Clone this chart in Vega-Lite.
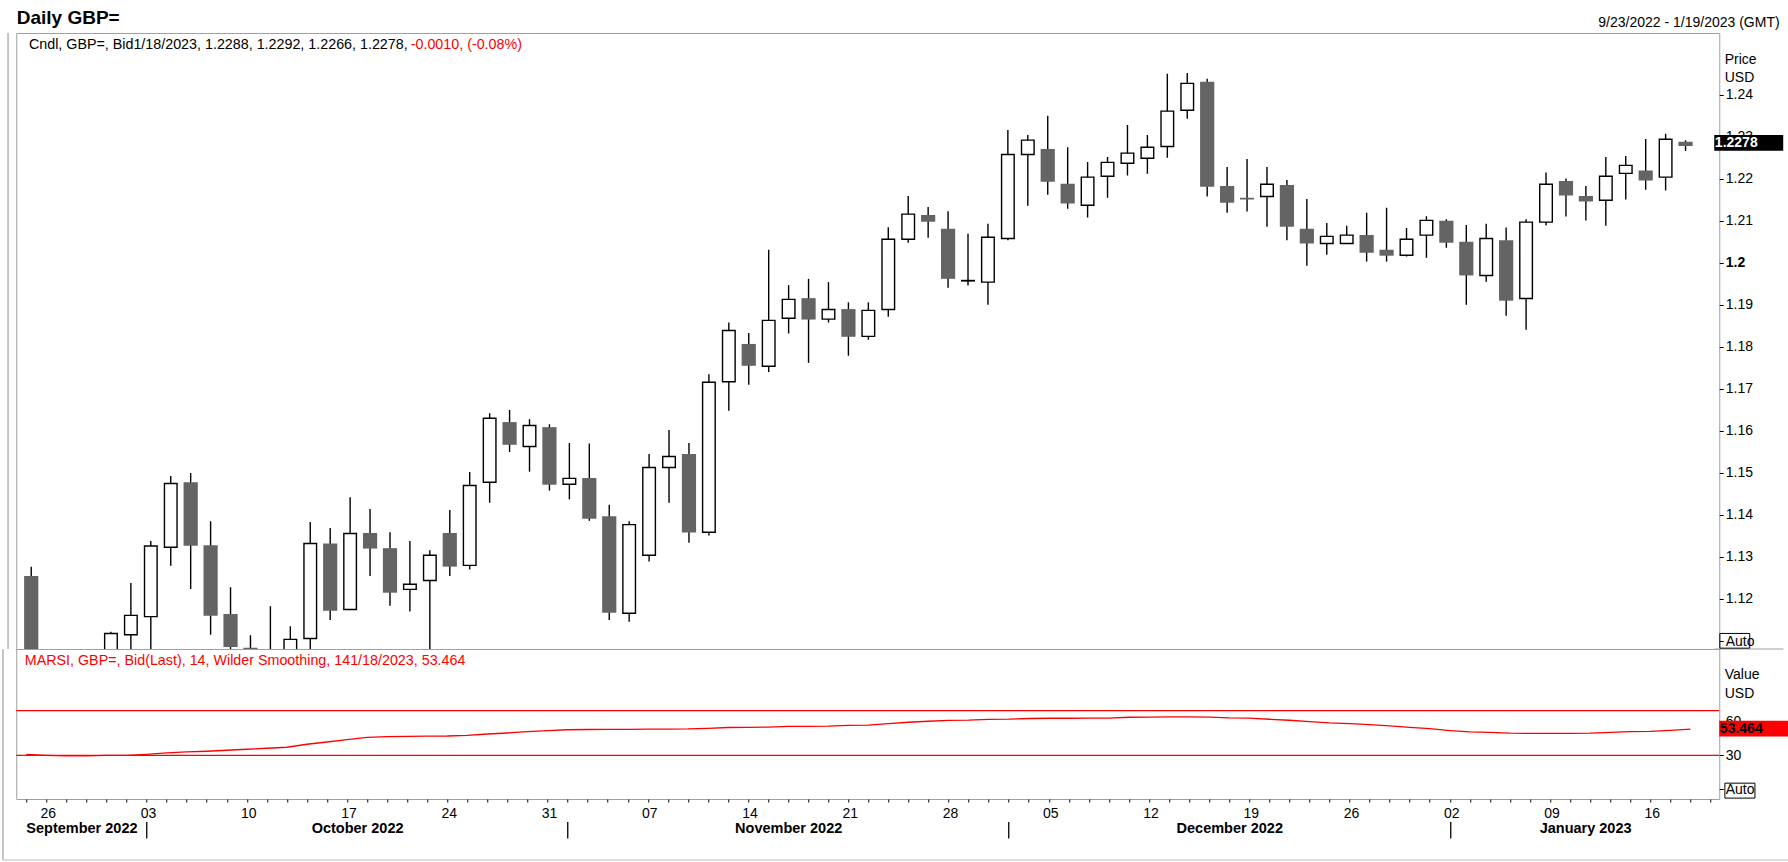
{
  "$schema": "https://vega.github.io/schema/vega-lite/v6.json",
  "autosize": {"type": "pad"},
  "padding": {"left": 1.25, "top": 8, "right": 0, "bottom": 0},
  "background": "white",
  "bounds": "flush",
  "spacing": 0,
  "config": {
    "font": "Liberation Sans",
    "view": {"stroke": "#a0a0a0", "strokeWidth": 1},
    "axis": {"labelFont": "Liberation Sans", "labelFontSize": 14, "labelColor": "black", "tickColor": "black", "domain": false, "grid": false, "labelOverlap": false, "labelFlush": false, "labelBound": false, "titleFont": "Liberation Sans"}
  },
  "data": {"values": [
    {"d":"2022-09-23","i":0,"o":1.1255,"h":1.1277,"l":1.0840,"c":1.0857,"r":30.9},
    {"d":"2022-09-26","i":1,"o":1.0860,"h":1.0930,"l":1.0350,"c":1.0687,"r":30.0},
    {"d":"2022-09-27","i":2,"o":1.0687,"h":1.0840,"l":1.0540,"c":1.0732,"r":29.4},
    {"d":"2022-09-28","i":3,"o":1.0732,"h":1.0900,"l":1.0540,"c":1.0890,"r":29.4},
    {"d":"2022-09-29","i":4,"o":1.0890,"h":1.1122,"l":1.0760,"c":1.1118,"r":30.0},
    {"d":"2022-09-30","i":5,"o":1.1115,"h":1.1238,"l":1.1025,"c":1.1161,"r":30.0},
    {"d":"2022-10-03","i":6,"o":1.1158,"h":1.1338,"l":1.1025,"c":1.1326,"r":30.9},
    {"d":"2022-10-04","i":7,"o":1.1323,"h":1.1493,"l":1.1279,"c":1.1475,"r":32.1},
    {"d":"2022-10-05","i":8,"o":1.1478,"h":1.1500,"l":1.1224,"c":1.1327,"r":33.0},
    {"d":"2022-10-06","i":9,"o":1.1328,"h":1.1385,"l":1.1115,"c":1.1160,"r":33.6},
    {"d":"2022-10-07","i":10,"o":1.1164,"h":1.1228,"l":1.1055,"c":1.1086,"r":34.5},
    {"d":"2022-10-10","i":11,"o":1.1084,"h":1.1114,"l":1.1040,"c":1.1056,"r":35.4},
    {"d":"2022-10-11","i":12,"o":1.1056,"h":1.1183,"l":1.0925,"c":1.0970,"r":36.3},
    {"d":"2022-10-12","i":13,"o":1.0970,"h":1.1135,"l":1.0960,"c":1.1104,"r":37.2},
    {"d":"2022-10-13","i":14,"o":1.1106,"h":1.1383,"l":1.0925,"c":1.1332,"r":39.9},
    {"d":"2022-10-14","i":15,"o":1.1332,"h":1.1369,"l":1.1150,"c":1.1172,"r":41.9},
    {"d":"2022-10-17","i":16,"o":1.1175,"h":1.1442,"l":1.1175,"c":1.1356,"r":44.0},
    {"d":"2022-10-18","i":17,"o":1.1357,"h":1.1414,"l":1.1255,"c":1.1320,"r":46.1},
    {"d":"2022-10-19","i":18,"o":1.1321,"h":1.1359,"l":1.1184,"c":1.1215,"r":46.8},
    {"d":"2022-10-20","i":19,"o":1.1223,"h":1.1338,"l":1.1170,"c":1.1235,"r":47.0},
    {"d":"2022-10-21","i":20,"o":1.1244,"h":1.1316,"l":1.0925,"c":1.1304,"r":47.1},
    {"d":"2022-10-24","i":21,"o":1.1357,"h":1.1412,"l":1.1255,"c":1.1277,"r":47.3},
    {"d":"2022-10-25","i":22,"o":1.1280,"h":1.1502,"l":1.1270,"c":1.1470,"r":47.9},
    {"d":"2022-10-26","i":23,"o":1.1478,"h":1.1642,"l":1.1429,"c":1.1630,"r":49.1},
    {"d":"2022-10-27","i":24,"o":1.1621,"h":1.1650,"l":1.1550,"c":1.1567,"r":50.0},
    {"d":"2022-10-28","i":25,"o":1.1563,"h":1.1628,"l":1.1503,"c":1.1613,"r":51.2},
    {"d":"2022-10-31","i":26,"o":1.1609,"h":1.1616,"l":1.1458,"c":1.1472,"r":52.1},
    {"d":"2022-11-01","i":27,"o":1.1473,"h":1.1571,"l":1.1437,"c":1.1487,"r":52.9},
    {"d":"2022-11-02","i":28,"o":1.1488,"h":1.1570,"l":1.1386,"c":1.1391,"r":53.1},
    {"d":"2022-11-03","i":29,"o":1.1397,"h":1.1424,"l":1.1150,"c":1.1167,"r":53.2},
    {"d":"2022-11-04","i":30,"o":1.1166,"h":1.1385,"l":1.1146,"c":1.1377,"r":53.3},
    {"d":"2022-11-07","i":31,"o":1.1304,"h":1.1545,"l":1.1289,"c":1.1513,"r":53.4},
    {"d":"2022-11-08","i":32,"o":1.1513,"h":1.1602,"l":1.1429,"c":1.1539,"r":53.5},
    {"d":"2022-11-09","i":33,"o":1.1545,"h":1.1571,"l":1.1334,"c":1.1358,"r":53.6},
    {"d":"2022-11-10","i":34,"o":1.1359,"h":1.1735,"l":1.1351,"c":1.1716,"r":54.2},
    {"d":"2022-11-11","i":35,"o":1.1717,"h":1.1858,"l":1.1648,"c":1.1839,"r":54.9},
    {"d":"2022-11-14","i":36,"o":1.1807,"h":1.1833,"l":1.1710,"c":1.1755,"r":55.1},
    {"d":"2022-11-15","i":37,"o":1.1754,"h":1.2031,"l":1.1740,"c":1.1863,"r":55.3},
    {"d":"2022-11-16","i":38,"o":1.1868,"h":1.1947,"l":1.1832,"c":1.1913,"r":55.9},
    {"d":"2022-11-17","i":39,"o":1.1916,"h":1.1962,"l":1.1762,"c":1.1865,"r":56.0},
    {"d":"2022-11-18","i":40,"o":1.1866,"h":1.1954,"l":1.1858,"c":1.1889,"r":56.2},
    {"d":"2022-11-21","i":41,"o":1.1890,"h":1.1906,"l":1.1779,"c":1.1824,"r":56.8},
    {"d":"2022-11-22","i":42,"o":1.1825,"h":1.1906,"l":1.1817,"c":1.1887,"r":57.0},
    {"d":"2022-11-23","i":43,"o":1.1889,"h":1.2085,"l":1.1872,"c":1.2056,"r":58.3},
    {"d":"2022-11-24","i":44,"o":1.2056,"h":1.2159,"l":1.2048,"c":1.2116,"r":59.6},
    {"d":"2022-11-25","i":45,"o":1.2114,"h":1.2133,"l":1.2060,"c":1.2098,"r":60.5},
    {"d":"2022-11-28","i":46,"o":1.2081,"h":1.2123,"l":1.1941,"c":1.1962,"r":61.3},
    {"d":"2022-11-29","i":47,"o":1.1957,"h":1.2069,"l":1.1946,"c":1.1958,"r":61.5},
    {"d":"2022-11-30","i":48,"o":1.1954,"h":1.2093,"l":1.1900,"c":1.2061,"r":62.2},
    {"d":"2022-12-01","i":49,"o":1.2058,"h":1.2316,"l":1.2054,"c":1.2258,"r":62.4},
    {"d":"2022-12-02","i":50,"o":1.2258,"h":1.2304,"l":1.2136,"c":1.2292,"r":63.0},
    {"d":"2022-12-05","i":51,"o":1.2271,"h":1.2350,"l":1.2162,"c":1.2193,"r":63.2},
    {"d":"2022-12-06","i":52,"o":1.2188,"h":1.2275,"l":1.2129,"c":1.2141,"r":63.2},
    {"d":"2022-12-07","i":53,"o":1.2137,"h":1.2240,"l":1.2108,"c":1.2204,"r":63.3},
    {"d":"2022-12-08","i":54,"o":1.2206,"h":1.2252,"l":1.2155,"c":1.2239,"r":63.4},
    {"d":"2022-12-09","i":55,"o":1.2237,"h":1.2328,"l":1.2208,"c":1.2261,"r":64.1},
    {"d":"2022-12-12","i":56,"o":1.2249,"h":1.2304,"l":1.2212,"c":1.2275,"r":64.3},
    {"d":"2022-12-13","i":57,"o":1.2277,"h":1.2450,"l":1.2250,"c":1.2361,"r":64.4},
    {"d":"2022-12-14","i":58,"o":1.2363,"h":1.2452,"l":1.2343,"c":1.2427,"r":64.4},
    {"d":"2022-12-15","i":59,"o":1.2431,"h":1.2438,"l":1.2158,"c":1.2181,"r":64.3},
    {"d":"2022-12-16","i":60,"o":1.2183,"h":1.2228,"l":1.2119,"c":1.2143,"r":63.6},
    {"d":"2022-12-19","i":61,"o":1.2155,"h":1.2247,"l":1.2122,"c":1.2151,"r":63.4},
    {"d":"2022-12-20","i":62,"o":1.2158,"h":1.2228,"l":1.2086,"c":1.2187,"r":62.3},
    {"d":"2022-12-21","i":63,"o":1.2185,"h":1.2197,"l":1.2054,"c":1.2086,"r":61.4},
    {"d":"2022-12-22","i":64,"o":1.2081,"h":1.2152,"l":1.1993,"c":1.2046,"r":60.1},
    {"d":"2022-12-23","i":65,"o":1.2046,"h":1.2095,"l":1.2019,"c":1.2063,"r":59.0},
    {"d":"2022-12-26","i":66,"o":1.2046,"h":1.2088,"l":1.2046,"c":1.2066,"r":58.3},
    {"d":"2022-12-27","i":67,"o":1.2066,"h":1.2119,"l":1.2003,"c":1.2024,"r":57.4},
    {"d":"2022-12-28","i":68,"o":1.2031,"h":1.2131,"l":1.2003,"c":1.2017,"r":56.4},
    {"d":"2022-12-29","i":69,"o":1.2018,"h":1.2083,"l":1.2015,"c":1.2056,"r":55.1},
    {"d":"2022-12-30","i":70,"o":1.2066,"h":1.2111,"l":1.2012,"c":1.2101,"r":53.9},
    {"d":"2023-01-02","i":71,"o":1.2100,"h":1.2104,"l":1.2036,"c":1.2048,"r":52.2},
    {"d":"2023-01-03","i":72,"o":1.2050,"h":1.2090,"l":1.1900,"c":1.1970,"r":50.9},
    {"d":"2023-01-04","i":73,"o":1.1970,"h":1.2093,"l":1.1955,"c":1.2058,"r":50.5},
    {"d":"2023-01-05","i":74,"o":1.2054,"h":1.2084,"l":1.1874,"c":1.1910,"r":49.8},
    {"d":"2023-01-06","i":75,"o":1.1915,"h":1.2104,"l":1.1841,"c":1.2097,"r":49.7},
    {"d":"2023-01-09","i":76,"o":1.2097,"h":1.2215,"l":1.2089,"c":1.2187,"r":49.7},
    {"d":"2023-01-10","i":77,"o":1.2195,"h":1.2201,"l":1.2110,"c":1.2160,"r":49.7},
    {"d":"2023-01-11","i":78,"o":1.2159,"h":1.2183,"l":1.2101,"c":1.2146,"r":49.8},
    {"d":"2023-01-12","i":79,"o":1.2149,"h":1.2252,"l":1.2088,"c":1.2206,"r":50.6},
    {"d":"2023-01-13","i":80,"o":1.2213,"h":1.2254,"l":1.2151,"c":1.2232,"r":51.2},
    {"d":"2023-01-16","i":81,"o":1.2220,"h":1.2295,"l":1.2174,"c":1.2196,"r":51.5},
    {"d":"2023-01-17","i":82,"o":1.2204,"h":1.2307,"l":1.2172,"c":1.2294,"r":52.4},
    {"d":"2023-01-18","i":83,"o":1.2288,"h":1.2292,"l":1.2266,"c":1.2278,"r":53.464}
  ]},
  "vconcat": [
    {
      "width": 1703,
      "height": 616,
      "resolve": {"axis": {"y": "independent"}},
      "layer": [
        {
          "mark": {"type": "point", "opacity": 0},
          "encoding": {
            "x": {"field": "i", "type": "quantitative", "scale": {"domain": [-0.5, 84.44], "nice": false, "zero": false}, "axis": null},
            "y": {"field": "c", "type": "quantitative", "scale": {"domain": [1.1081, 1.2547], "nice": false, "zero": false},
              "axis": {"orient": "right", "values": [1.11,1.12,1.13,1.14,1.15,1.16,1.17,1.18,1.19,1.2,1.21,1.22,1.23,1.24],
                "labelExpr": "datum.value < 1.115 ? 'Auto' : (abs(datum.value - 1.2) < 0.0001 ? '1.2' : format(datum.value, '.2f'))",
                "labelFontWeight": {"expr": "abs(datum.value - 1.2) < 0.0001 ? 'bold' : 'normal'"},
                "tickSize": 4, "labelPadding": 2, "labelBaseline": "middle",
                "title": ["Price", "USD"], "titleAngle": 0, "titleAlign": "left", "titleBaseline": "top", "titleX": 5, "titleY": 19,
                "titleFontSize": 14, "titleFontWeight": "normal", "titleColor": "black", "titleLineHeight": 18.8}}
          }
        },
        {
          "transform": [{"filter": "datum.i == 83"}],
          "mark": {"type": "rule", "color": "#b4b4b4", "strokeWidth": 1.5},
          "encoding": {
            "x": {"datum": -1.162, "type": "quantitative", "axis": null},
            "y": {"datum": 1.2547, "type": "quantitative", "axis": null},
            "y2": {"datum": 1.1081}
          }
        },
        {
          "transform": [{"filter": "datum.i == 83"}],
          "mark": {"type": "rule", "color": "#a0a0a0", "strokeWidth": 1},
          "encoding": {
            "x": {"datum": 84.44, "type": "quantitative", "axis": null},
            "x2": {"datum": 87.9},
            "y": {"datum": 1.1081, "type": "quantitative", "axis": null}
          }
        },
        {
          "mark": {"type": "rule", "clip": true, "color": "black", "strokeWidth": 1.4},
          "encoding": {
            "x": {"field": "i", "type": "quantitative", "axis": null},
            "y": {"field": "l", "type": "quantitative", "axis": null},
            "y2": {"field": "h"}
          }
        },
        {
          "transform": [{"filter": "datum.c < datum.o"}],
          "mark": {"type": "bar", "clip": true, "size": 14.2, "fill": "#646464", "strokeWidth": 0},
          "encoding": {
            "x": {"field": "i", "type": "quantitative", "axis": null},
            "y": {"field": "o", "type": "quantitative", "axis": null},
            "y2": {"field": "c"}
          }
        },
        {
          "transform": [{"filter": "datum.c >= datum.o"}],
          "mark": {"type": "bar", "clip": true, "size": 12.6, "fill": "white", "stroke": "black", "strokeWidth": 1.4},
          "encoding": {
            "x": {"field": "i", "type": "quantitative", "axis": null},
            "y": {"field": "o", "type": "quantitative", "axis": null},
            "y2": {"field": "c"}
          }
        },
        {
          "transform": [{"filter": "datum.i == 83"}],
          "mark": {"type": "rect", "fill": "black"},
          "encoding": {
            "x": {"datum": 84.44, "type": "quantitative", "axis": null},
            "x2": {"datum": 87.9},
            "y": {"datum": 1.2304, "type": "quantitative", "axis": null},
            "y2": {"datum": 1.2267}
          }
        },
        {
          "transform": [{"filter": "datum.i == 83"}],
          "mark": {"type": "text", "color": "white", "fontWeight": "bold", "fontSize": 14, "align": "left", "baseline": "middle"},
          "encoding": {
            "x": {"datum": 84.47, "type": "quantitative", "axis": null},
            "y": {"datum": 1.22857, "type": "quantitative", "axis": null},
            "text": {"field": "c", "type": "quantitative", "format": ".4f"}
          }
        },
        {
          "transform": [{"filter": "datum.i == 83"}],
          "mark": {"type": "rect", "fill": "transparent", "stroke": "black", "strokeWidth": 1},
          "encoding": {
            "x": {"datum": 84.72, "type": "quantitative", "axis": null},
            "x2": {"datum": 86.22},
            "y": {"datum": 1.1118, "type": "quantitative", "axis": null},
            "y2": {"datum": 1.1083}
          }
        },
        {
          "transform": [{"filter": "datum.i == 83"}],
          "mark": {"type": "text", "color": "black", "fontWeight": "bold", "fontSize": 19, "align": "left", "baseline": "alphabetic"},
          "encoding": {
            "x": {"datum": -0.728, "type": "quantitative", "axis": null},
            "y": {"datum": 1.25687, "type": "quantitative", "axis": null},
            "text": {"value": "Daily GBP="}
          }
        },
        {
          "transform": [{"filter": "datum.i == 83"}],
          "mark": {"type": "text", "color": "black", "fontSize": 14, "align": "right", "baseline": "alphabetic"},
          "encoding": {
            "x": {"datum": 87.72, "type": "quantitative", "axis": null},
            "y": {"datum": 1.25618, "type": "quantitative", "axis": null},
            "text": {"value": "9/23/2022 - 1/19/2023 (GMT)"}
          }
        },
        {
          "transform": [{"filter": "datum.i == 83"}],
          "mark": {"type": "text", "color": "black", "fontSize": 14.3, "align": "left", "baseline": "alphabetic"},
          "encoding": {
            "x": {"datum": -0.115, "type": "quantitative", "axis": null},
            "y": {"datum": 1.2510, "type": "quantitative", "axis": null},
            "text": {"value": "Cndl, GBP=, Bid1/18/2023, 1.2288, 1.2292, 1.2266, 1.2278,"}
          }
        },
        {
          "transform": [{"filter": "datum.i == 83"}],
          "mark": {"type": "text", "color": "#ff0000", "fontSize": 14.3, "align": "left", "baseline": "alphabetic"},
          "encoding": {
            "x": {"datum": 19.04, "type": "quantitative", "axis": null},
            "y": {"datum": 1.2510, "type": "quantitative", "axis": null},
            "text": {"value": "-0.0010, (-0.08%)"}
          }
        }
      ]
    },
    {
      "width": 1703,
      "height": 150,
      "resolve": {"axis": {"x": "independent", "y": "independent"}},
      "layer": [
        {
          "mark": {"type": "point", "opacity": 0},
          "encoding": {
            "x": {"field": "i", "type": "quantitative", "scale": {"domain": [-0.5, 84.44], "nice": false, "zero": false}, "axis": null},
            "y": {"field": "r", "type": "quantitative", "scale": {"domain": [-9.2, 125.3], "nice": false, "zero": false},
              "axis": {"orient": "right", "values": [-0.5, 30, 60],
                "labelExpr": "datum.value < 0 ? 'Auto' : datum.value",
                "tickSize": 4, "labelPadding": 2, "labelBaseline": "middle",
                "title": ["Value", "USD"], "titleAngle": 0, "titleAlign": "left", "titleBaseline": "top", "titleX": 5, "titleY": 18.5,
                "titleFontSize": 14, "titleFontWeight": "normal", "titleColor": "black", "titleLineHeight": 18.5}}
          }
        },
        {
          "transform": [{"filter": "datum.i == 83"}],
          "mark": {"type": "rule", "color": "#b4b4b4", "strokeWidth": 1.5},
          "encoding": {
            "x": {"datum": -1.162, "type": "quantitative", "axis": null},
            "y": {"datum": 125.3, "type": "quantitative", "axis": null},
            "y2": {"datum": -63.9}
          }
        },
        {
          "transform": [{"filter": "datum.i == 83"}],
          "mark": {"type": "rule", "color": "#d0d0d0", "strokeWidth": 1.5},
          "encoding": {
            "x": {"datum": -1.162, "type": "quantitative", "axis": null},
            "x2": {"datum": 87.9},
            "y": {"datum": -63.9, "type": "quantitative", "axis": null}
          }
        },
        {
          "transform": [{"filter": "datum.i == 83"}],
          "mark": {"type": "rule", "color": "#ff0000", "strokeWidth": 1.3},
          "encoding": {
            "y": {"datum": 70, "type": "quantitative", "axis": null}
          }
        },
        {
          "transform": [{"filter": "datum.i == 83"}],
          "mark": {"type": "rule", "color": "#ff0000", "strokeWidth": 1.3},
          "encoding": {
            "y": {"datum": 30, "type": "quantitative", "axis": null}
          }
        },
        {
          "mark": {"type": "line", "color": "#ff0000", "strokeWidth": 1.3},
          "encoding": {
            "x": {"field": "i", "type": "quantitative",
              "axis": {"orient": "bottom", "title": null, "domain": false,
                "values": [0,1,2,3,4,5,6,7,8,9,10,11,12,13,14,15,16,17,18,19,20,21,22,23,24,25,26,27,28,29,30,31,32,33,34,35,36,37,38,39,40,41,42,43,44,45,46,47,48,49,50,51,52,53,54,55,56,57,58,59,60,61,62,63,64,65,66,67,68,69,70,71,72,73,74,75,76,77,78,79,80,81,82,83,84],
                "labelExpr": "({'1':'26','6':'03','11':'10','16':'17','21':'24','26':'31','31':'07','36':'14','41':'21','46':'28','51':'05','56':'12','61':'19','66':'26','71':'02','76':'09','81':'16'})[datum.value] || ''",
                "tickSize": 3, "tickWidth": 1, "labelPadding": 4, "labelOffset": 1.5, "labelBaseline": "top", "labelFontSize": 14}},
            "y": {"field": "r", "type": "quantitative", "axis": null}
          }
        },
        {
          "transform": [{"filter": "datum.i == 83"}],
          "mark": {"type": "rect", "fill": "#ff0000"},
          "encoding": {
            "x": {"datum": 84.44, "type": "quantitative", "axis": null},
            "x2": {"datum": 87.9},
            "y": {"datum": 61.0, "type": "quantitative", "axis": null},
            "y2": {"datum": 46.8}
          }
        },
        {
          "transform": [{"filter": "datum.i == 83"}],
          "mark": {"type": "text", "color": "black", "fontWeight": "bold", "fontSize": 14, "align": "left", "baseline": "middle"},
          "encoding": {
            "x": {"datum": 84.47, "type": "quantitative", "axis": null},
            "y": {"datum": 53.9, "type": "quantitative", "axis": null},
            "text": {"field": "r", "type": "quantitative", "format": ".3f"}
          }
        },
        {
          "transform": [{"filter": "datum.i == 83"}],
          "mark": {"type": "rect", "fill": "transparent", "stroke": "black", "strokeWidth": 1},
          "encoding": {
            "x": {"datum": 84.72, "type": "quantitative", "axis": null},
            "x2": {"datum": 86.22},
            "y": {"datum": 5.0, "type": "quantitative", "axis": null},
            "y2": {"datum": -8.4}
          }
        },
        {
          "transform": [{"filter": "datum.i == 83"}],
          "mark": {"type": "text", "color": "#ff0000", "fontSize": 14.3, "align": "left", "baseline": "alphabetic"},
          "encoding": {
            "x": {"datum": -0.075, "type": "quantitative", "axis": null},
            "y": {"datum": 111.3, "type": "quantitative", "axis": null},
            "text": {"value": "MARSI, GBP=, Bid(Last),  14, Wilder Smoothing, 141/18/2023, 53.464"}
          }
        },
        {
          "mark": {"type": "point", "opacity": 0},
          "encoding": {
            "x": {"field": "i", "type": "quantitative",
              "axis": {"orient": "bottom", "title": null, "domain": false, "ticks": false, "tickSize": 0,
                "values": [2.75, 16.5, 38, 60, 77.75],
                "labelExpr": "({'2.75':'September 2022','16.5':'October 2022','38':'November 2022','60':'December 2022','77.75':'January 2023'})[datum.value] || ''",
                "labelPadding": 22, "labelBaseline": "top", "labelFontSize": 14.5, "labelFontWeight": "bold"}},
            "y": {"field": "r", "type": "quantitative", "axis": null}
          }
        },
        {
          "mark": {"type": "point", "opacity": 0},
          "encoding": {
            "x": {"field": "i", "type": "quantitative",
              "axis": {"orient": "bottom", "title": null, "domain": false, "labels": false, "offset": 22.5,
                "values": [6, 27, 49, 71], "tickSize": 16.5, "tickWidth": 1.3}},
            "y": {"field": "r", "type": "quantitative", "axis": null}
          }
        }
      ]
    }
  ]
}
